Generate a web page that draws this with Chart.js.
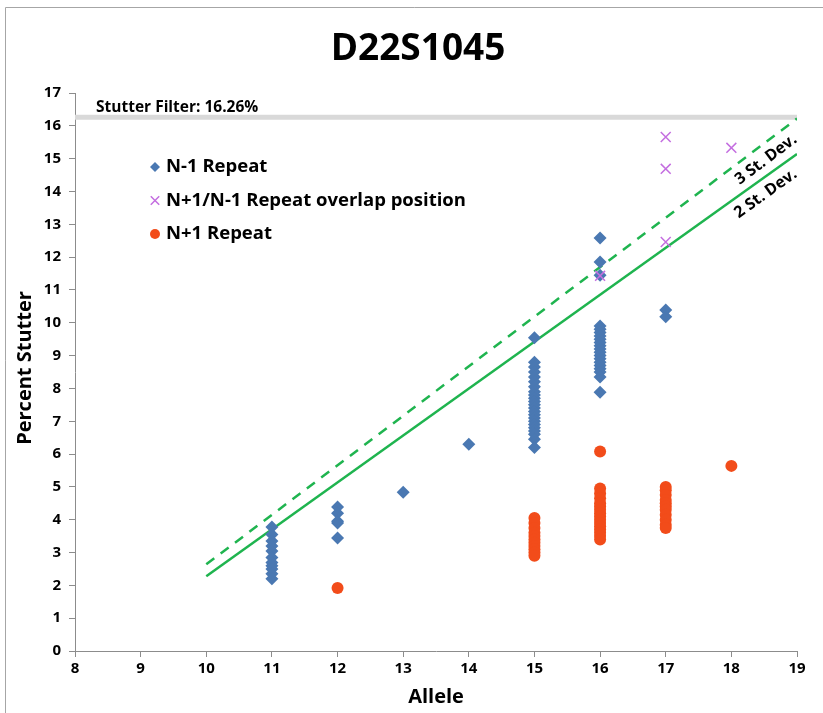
<!DOCTYPE html>
<html>
<head>
<meta charset="utf-8">
<script src="https://cdn.jsdelivr.net/npm/chart.js@4.4.1/dist/chart.umd.min.js"></script>
<style>
  html, body { margin: 0; padding: 0; background: #ffffff; }
  #wrap { width: 823px; height: 713px; position: relative; }
</style>
</head>
<body>
<div id="wrap"><canvas id="c" width="823" height="713"></canvas></div>
<script>
// D22S1045 stutter percentages by allele
const chartTitle = 'D22S1045';
const xTitle = 'Allele';
const yTitle = 'Percent Stutter';

// N-1 repeat stutter
const n1Allele  = [11,11,11,11,11,11,11,11,11,11,11, 12,12,12,12,12, 13, 14,
  15,15,15,15,15,15,15,15,15,15,15,15,15,15,15,15,15,15,15,15,15,15,15,
  16,16,16,16,16,16,16,16,16,16,16,16,16,16,16,16,16,16,16,16, 17,17];
const n1Stutter = [3.78,3.55,3.35,3.2,3.05,2.85,2.7,2.6,2.5,2.35,2.2, 4.39,4.2,3.95,3.9,3.44, 4.84, 6.3,
  9.54,8.8,8.65,8.5,8.35,8.2,8.05,7.9,7.8,7.7,7.6,7.5,7.4,7.3,7.2,7.1,7.0,6.9,6.8,6.7,6.6,6.45,6.2,
  12.58,11.85,11.45,9.9,9.8,9.7,9.6,9.5,9.4,9.3,9.2,9.1,9.0,8.9,8.8,8.7,8.6,8.5,8.35,7.88, 10.39,10.18];

// N+1/N-1 overlap position
const ovAllele  = [16, 17, 17, 17, 18];
const ovStutter = [11.43, 15.66, 14.69, 12.46, 15.33];

// N+1 repeat stutter
const p1Allele  = [12, 15,15,15,15,15,15,15,15,15,15,15,
  16,16,16,16,16,16,16,16,16,16,16,16,16,16,16,16,
  17,17,17,17,17,17,17,17,17,17,17, 18];
const p1Stutter = [1.92, 4.05,3.9,3.75,3.6,3.5,3.4,3.3,3.2,3.1,3.0,2.9,
  6.08,4.95,4.8,4.65,4.5,4.4,4.3,4.2,4.1,4.0,3.9,3.8,3.7,3.6,3.5,3.4,
  5.0,4.9,4.75,4.6,4.5,4.4,4.3,4.15,4.0,3.85,3.75, 5.64];

// Threshold lines
const sdAllele = [10, 19];
const twoSD   = [2.28, 15.14];
const threeSD = [2.64, 16.22];
const filterAllele = [8, 19];
const stutterFilter = 16.26;

const xTicks = [8,9,10,11,12,13,14,15,16,17,18,19];
const yTicks = [0,1,2,3,4,5,6,7,8,9,10,11,12,13,14,15,16,17];

const zip = (xs, ys) => xs.map((x, i) => ({ x: x, y: ys[i] }));

const FONT = '"Open Sans", Lato, sans-serif';
const BLUE = '#4a78b2';
const VIOLET = '#c46ee0';
const ORANGE = '#f24c1a';
const GREEN = '#1fb44f';

const datasets = [
  { label: 'N-1 Repeat', data: zip(n1Allele, n1Stutter), showLine: false,
    pointStyle: 'rectRot', pointRadius: 6.5, backgroundColor: BLUE, borderColor: BLUE, borderWidth: 0, order: 3 },
  { label: 'N+1/N-1 Repeat overlap position', data: zip(ovAllele, ovStutter), showLine: false,
    pointStyle: 'crossRot', pointRadius: 7, backgroundColor: VIOLET, borderColor: VIOLET, borderWidth: 1.5, order: 1 },
  { label: 'N+1 Repeat', data: zip(p1Allele, p1Stutter), showLine: false,
    pointStyle: 'circle', pointRadius: 6, backgroundColor: ORANGE, borderColor: ORANGE, borderWidth: 0, order: 2 },
  { label: '3 St. Dev.', data: zip(sdAllele, threeSD), showLine: true, pointRadius: 0,
    borderColor: GREEN, borderWidth: 2.5, borderDash: [10, 8], fill: false, order: 4 },
  { label: '2 St. Dev.', data: zip(sdAllele, twoSD), showLine: true, pointRadius: 0,
    borderColor: GREEN, borderWidth: 2.5, fill: false, order: 4 },
  { label: 'Stutter Filter', data: zip(filterAllele, filterAllele.map(() => stutterFilter)), showLine: true,
    pointRadius: 0, borderColor: '#d9d9d9', borderWidth: 5, fill: false, order: 6 }
];

// Titles, frame, legend and line labels drawn on the canvas
const decor = {
  id: 'decor',
  beforeDraw(chart) {
    const ctx = chart.ctx;
    ctx.save();
    ctx.strokeStyle = '#a6a6a6';
    ctx.lineWidth = 1;
    ctx.beginPath();
    ctx.moveTo(5.5, 713);
    ctx.lineTo(5.5, 7.5);
    ctx.lineTo(823, 7.5);
    ctx.stroke();
    ctx.restore();
  },
  afterDraw(chart) {
    const ctx = chart.ctx;
    const xs = chart.scales.x, ys = chart.scales.y;
    const area = chart.chartArea;
    ctx.save();
    ctx.fillStyle = '#000';
    ctx.textAlign = 'center';
    ctx.textBaseline = 'middle';

    ctx.font = 'bold 37px ' + FONT;
    ctx.fillText(chartTitle, 418, 49);

    ctx.font = 'bold 20px ' + FONT;
    ctx.fillText(xTitle, (area.left + area.right) / 2, 697);
    ctx.save();
    ctx.translate(25, 368);
    ctx.rotate(-Math.PI / 2);
    ctx.font = 'bold 20px ' + FONT;
    ctx.fillText(yTitle, 0, 0);
    ctx.restore();

    // Stutter filter caption
    ctx.textAlign = 'left';
    ctx.font = 'bold 15.5px ' + FONT;
    ctx.fillText('Stutter Filter: ' + stutterFilter.toFixed(2) + '%', 96, ys.getPixelForValue(stutterFilter) - 10);

    // Legend
    ctx.font = 'bold 18.5px ' + FONT;
    [0, 1, 2].forEach((di, i) => {
      const ds = chart.data.datasets[di];
      const cy = 167 + i * 33.5;
      ctx.fillStyle = ds.backgroundColor;
      ctx.strokeStyle = ds.borderColor;
      ctx.lineWidth = ds.borderWidth;
      Chart.helpers.drawPoint(ctx, {
        pointStyle: ds.pointStyle,
        radius: di === 1 ? 6 : 5,
        borderWidth: ds.borderWidth,
        rotation: 0
      }, 155, cy);
      ctx.fillStyle = '#000';
      ctx.fillText(ds.label, 166, cy);
    });

    // Standard-deviation line captions
    const labelOn = (vals, xv, off, text) => {
      const px1 = xs.getPixelForValue(sdAllele[0]), py1 = ys.getPixelForValue(vals[0]);
      const px2 = xs.getPixelForValue(sdAllele[1]), py2 = ys.getPixelForValue(vals[1]);
      const ang = Math.atan2(py2 - py1, px2 - px1);
      const t = (xv - sdAllele[0]) / (sdAllele[1] - sdAllele[0]);
      const yv = vals[0] + t * (vals[1] - vals[0]);
      const px = xs.getPixelForValue(xv), py = ys.getPixelForValue(yv);
      ctx.save();
      ctx.translate(px, py);
      ctx.rotate(ang);
      ctx.textAlign = 'center';
      ctx.textBaseline = 'middle';
      ctx.font = 'bold 16px ' + FONT;
      ctx.fillStyle = '#000';
      ctx.fillText(text, 0, off);
      ctx.restore();
    };
    labelOn(threeSD, 18.4, 14, '3 St. Dev.');
    labelOn(twoSD, 18.4, 14, '2 St. Dev.');
    ctx.restore();
  }
};

new Chart(document.getElementById('c'), {
  type: 'scatter',
  data: { datasets: datasets },
  options: {
    responsive: false,
    animation: false,
    events: [],
    layout: { padding: { left: 0, right: 26, top: 93, bottom: 0 } },
    plugins: { legend: { display: false }, tooltip: { enabled: false }, title: { display: false } },
    scales: {
      x: {
        type: 'linear', min: 8, max: 19,
        afterFit(s) { s.height = 62; },
        afterBuildTicks(s) { s.ticks = xTicks.map(v => ({ value: v })); },
        grid: { drawOnChartArea: false, drawTicks: true, tickLength: 6, color: '#8c8c8c' },
        border: { color: '#8c8c8c', width: 1 },
        ticks: { color: '#000', font: { family: FONT, size: 15, weight: 'bold' }, padding: 3, maxRotation: 0 }
      },
      y: {
        type: 'linear', min: 0, max: 17,
        afterFit(s) { s.width = 75; },
        afterBuildTicks(s) { s.ticks = yTicks.map(v => ({ value: v })); },
        grid: { drawOnChartArea: false, drawTicks: true, tickLength: 6, color: '#8c8c8c' },
        border: { color: '#8c8c8c', width: 1 },
        ticks: { color: '#000', font: { family: FONT, size: 15, weight: 'bold' }, padding: 8 }
      }
    }
  },
  plugins: [decor]
});
</script>
</body>
</html>
